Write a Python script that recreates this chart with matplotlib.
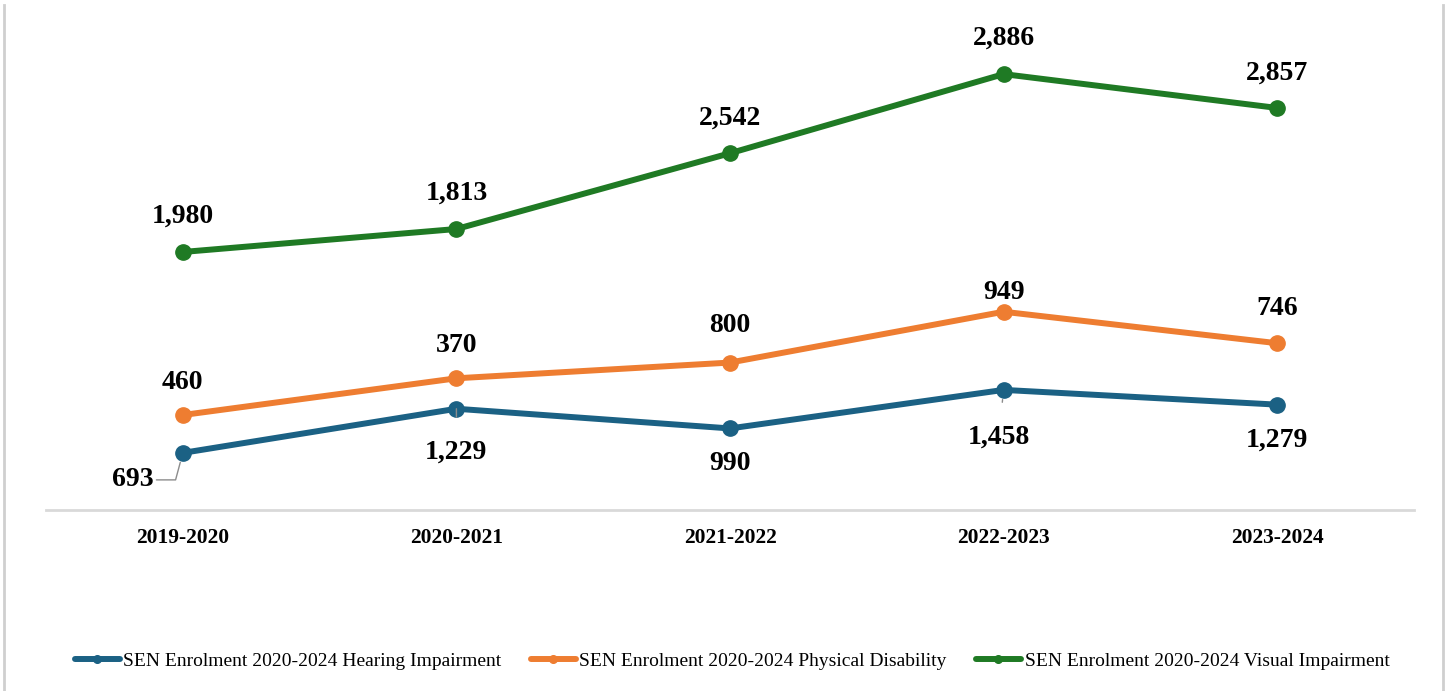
import numpy as np
import matplotlib.pyplot as plt

years = ['2019-2020', '2020-2021', '2021-2022', '2022-2023', '2023-2024']
hearing = [693, 1229, 990, 1458, 1279]
physical = [460, 370, 800, 949, 746]
visual = [1980, 1813, 2542, 2886, 2857]

names = ['SEN Enrolment 2020-2024 Hearing Impairment',
         'SEN Enrolment 2020-2024 Physical Disability',
         'SEN Enrolment 2020-2024 Visual Impairment']
colors = ['#1b6184', '#ee7d31', '#1f7a24']

plt.rcParams['font.family'] = ['Liberation Serif', 'DejaVu Serif']

# stacked lines: each series sits on top of the previous one
tops = np.cumsum([hearing, physical, visual], axis=0)
x = np.arange(len(years))

fig = plt.figure(figsize=(14.47, 6.91), dpi=100)
ax = fig.add_axes([0.0318, 0.262, 0.9454, 0.715])

for i in range(3):
    ax.plot(x, tops[i], color=colors[i], lw=4.3, marker='o', ms=11,
            label=names[i], solid_capstyle='round')

# label offsets in pixels (dx, dy)
off_h = [(-50, -27), (0, -43), (0, -35), (-5, -47), (0, -36)]
off_p = [(0, 33), (0, 33), (0, 37), (0, 19), (0, 35)]
off_v = [(0, 36), (0, 36), (0, 35), (0, 36), (0, 35)]

for j in range(len(years)):
    leader = None
    if j == 0:
        leader = dict(arrowstyle='-', color='#8c8c8c', lw=1, shrinkA=0, shrinkB=7,
                      connectionstyle='angle,angleA=0,angleB=75')
    elif j in (1, 3):
        leader = dict(arrowstyle='-', color='#8c8c8c', lw=1, shrinkA=14, shrinkB=7)
    ax.annotate(f'{hearing[j]:,}', (x[j], tops[0][j]), xytext=off_h[j],
                textcoords='offset pixels', ha='center', va='center',
                fontsize=20, fontweight='bold', arrowprops=leader)
    ax.annotate(f'{physical[j]:,}', (x[j], tops[1][j]), xytext=off_p[j],
                textcoords='offset pixels', ha='center', va='center',
                fontsize=20, fontweight='bold')
    ax.annotate(f'{visual[j]:,}', (x[j], tops[2][j]), xytext=off_v[j],
                textcoords='offset pixels', ha='center', va='center',
                fontsize=20, fontweight='bold')

ax.set_xlim(-0.5, 4.5)
ax.set_ylim(0, 6000)
ax.set_xticks(x)
ax.set_xticklabels(years, fontsize=15.5, fontweight='bold')
ax.tick_params(axis='x', length=0, pad=13)
ax.set_yticks([])
for s in ['top', 'right', 'left']:
    ax.spines[s].set_visible(False)
ax.spines['bottom'].set_color('#d9d9d9')
ax.spines['bottom'].set_linewidth(2)

fig.legend(loc='center', bbox_to_anchor=(0.506, 0.043), ncol=3, frameon=False,
           fontsize=14, handlelength=2.3, markerscale=0.5, columnspacing=1.5,
           handletextpad=0.2)

# thin grey frame lines at the sides of the picture
fig.add_artist(plt.Line2D([0.003, 0.003], [0, 0.993], color='#cfcfcf', lw=2))
fig.add_artist(plt.Line2D([0.997, 0.997], [0, 0.993], color='#cfcfcf', lw=2))

fig.savefig('out.png', dpi=100)
